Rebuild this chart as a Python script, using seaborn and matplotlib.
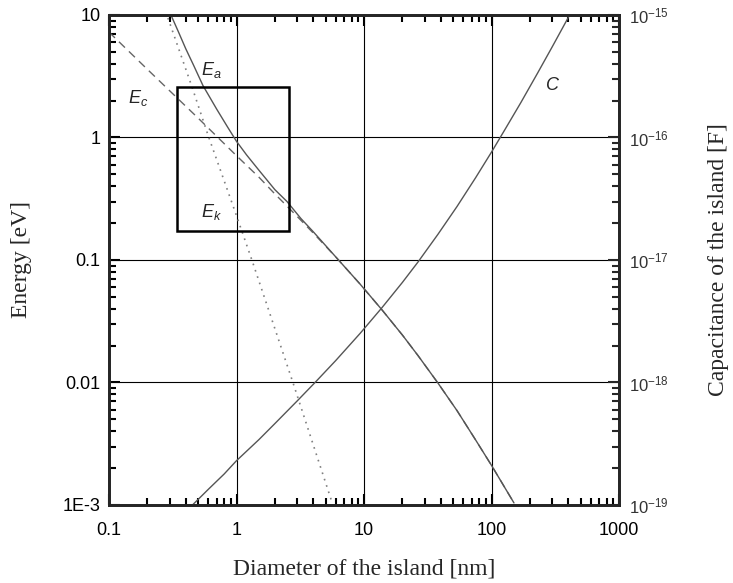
import numpy as np
import pandas as pd
import seaborn as sns
import matplotlib.pyplot as plt
from matplotlib.ticker import LogLocator, FixedLocator, FixedFormatter, NullFormatter
from matplotlib.patches import Rectangle

# values
ea_d = [0.306, 0.35, 0.4, 0.46, 0.546, 0.7, 0.85, 1.0, 1.2, 1.5, 2.0, 2.49, 3.2,
        4.0, 6.1, 9.3, 13.8, 20, 26.5, 38, 53.6, 75, 101, 128, 150]
ea_e = [10.0, 7.3, 5.3, 3.9, 2.65, 1.7, 1.22, 0.93, 0.72, 0.54, 0.375, 0.30, 0.218,
        0.17, 0.104, 0.0637, 0.0393, 0.0244, 0.0166, 0.0099, 0.0059, 0.0034,
        0.00207, 0.00137, 0.00104]

ec_d = [0.1, 0.2, 0.341, 0.5, 1.0, 1.5, 2.0, 2.5, 3.0, 4.0, 6.1,
        9.3, 13.8, 20, 26.5, 38, 53.6, 75, 101, 128, 150]
ec_e = [7.25, 3.6, 2.11, 1.44, 0.71, 0.474, 0.346, 0.274, 0.226, 0.166, 0.104,
        0.0637, 0.0393, 0.0244, 0.0166, 0.0099, 0.0059, 0.0034, 0.00207, 0.00137, 0.00104]

ek_d = [0.29, 0.448, 0.597, 1.0, 1.32, 2.77, 5.7]
ek_e = [9.45, 2.58, 1.05, 0.23, 0.1, 0.01, 0.001]

c_d = [0.456, 0.6, 0.8, 1.0, 1.5, 2.0, 3.0, 4.13, 6.0, 9.3, 13.8, 20, 26.5,
       38, 53.6, 75, 101, 128, 170, 230, 300, 410]
c_f = [1.01e-19, 1.34e-19, 1.79e-19, 2.3e-19, 3.42e-19, 4.62e-19, 7.09e-19, 1e-18,
       1.51e-18, 2.51e-18, 4.07e-18, 6.56e-18, 9.62e-18, 1.62e-17, 2.73e-17, 4.69e-17,
       7.73e-17, 1.17e-16, 1.93e-16, 3.36e-16, 5.52e-16, 1e-15]

box_d = [0.341, 2.58]
box_e = [0.173, 2.58]

left_ticks = [1e-3, 1e-2, 1e-1, 1, 10]
left_labels = ["1E-3", "0.01", "0.1", "1", "10"]
x_ticks = [0.1, 1, 10, 100, 1000]
x_labels = ["0.1", "1", "10", "100", "1000"]
right_ticks = [1e-19, 1e-18, 1e-17, 1e-16, 1e-15]
right_labels = ["$10^{-19}$", "$10^{-18}$", "$10^{-17}$", "$10^{-16}$", "$10^{-15}$"]

sns.set_style("ticks")
plt.rcParams['font.family'] = ['Liberation Sans', 'DejaVu Sans']
plt.rcParams['mathtext.fontset'] = 'custom'
plt.rcParams['mathtext.rm'] = 'Liberation Sans'
plt.rcParams['mathtext.it'] = 'Liberation Sans:italic'

fig = plt.figure(figsize=(7.33, 5.83), dpi=100)
ax = fig.add_axes([0.1487, 0.1338, 0.6958, 0.8405])
ax.set_xscale('log')
ax.set_yscale('log')
ax.set_xlim(0.1, 1000)
ax.set_ylim(1e-3, 10)

line_col = '#555555'
sns.lineplot(x=ec_d, y=ec_e, ax=ax, color='#666666', lw=1.0, sort=False,
             linestyle=(0, (6, 4)))
sns.lineplot(x=ea_d, y=ea_e, ax=ax, color=line_col, lw=1.0, sort=False)
sns.lineplot(x=ek_d, y=ek_e, ax=ax, color='#808080', lw=1.2, sort=False,
             linestyle=(0, (1, 3)))

ax.add_patch(Rectangle((box_d[0], box_e[0]), box_d[1] - box_d[0], box_e[1] - box_e[0],
                       fill=False, ec='black', lw=1.8, zorder=5))

ax.grid(True, which='major', color='black', lw=0.8)
ax.xaxis.set_major_locator(FixedLocator(x_ticks))
ax.xaxis.set_major_formatter(FixedFormatter(x_labels))
ax.xaxis.set_minor_locator(LogLocator(base=10, subs=np.arange(2, 10)))
ax.xaxis.set_minor_formatter(NullFormatter())
ax.yaxis.set_major_locator(FixedLocator(left_ticks))
ax.yaxis.set_major_formatter(FixedFormatter(left_labels))
ax.yaxis.set_minor_locator(LogLocator(base=10, subs=np.arange(2, 10)))
ax.yaxis.set_minor_formatter(NullFormatter())
ax.tick_params(which='both', direction='in', top=True, right=False, width=1.5,
               labelsize=13, colors='black')
ax.tick_params(which='major', length=8)
ax.tick_params(which='minor', length=5)
ax.tick_params(axis='x', which='major', pad=12)
ax.tick_params(axis='y', which='major', pad=6)
for s in ax.spines.values():
    s.set_linewidth(2)

ax2 = ax.twinx()
ax2.set_yscale('log')
ax2.set_ylim(1e-19, 1e-15)
sns.lineplot(x=c_d, y=c_f, ax=ax2, color=line_col, lw=1.0, sort=False)
ax2.yaxis.set_major_locator(FixedLocator(right_ticks))
ax2.yaxis.set_major_formatter(FixedFormatter(right_labels))
ax2.yaxis.set_minor_locator(LogLocator(base=10, subs=np.arange(2, 10)))
ax2.yaxis.set_minor_formatter(NullFormatter())
ax2.tick_params(which='both', direction='in', width=1.5, labelsize=12,
                labelcolor='#333333')
ax2.tick_params(which='major', length=8, pad=7)
ax2.tick_params(which='minor', length=5)
for s in ax2.spines.values():
    s.set_linewidth(2)

ax.text(0.64, 3.56, "$E_a$", fontsize=13, ha='center', va='center')
ax.text(0.169, 2.1, "$E_c$", fontsize=13, ha='center', va='center')
ax.text(0.64, 0.245, "$E_k$", fontsize=13, ha='center', va='center')
ax2.text(299, 2.68e-16, "$C$", fontsize=13, ha='center', va='center')

serif = ['Liberation Serif', 'DejaVu Serif']
ax.set_xlabel("Diameter of the island [nm]", fontsize=17, family=serif, labelpad=14)
ax.set_ylabel("Energy [eV]", fontsize=17, family=serif, labelpad=22)
ax2.set_ylabel("Capacitance of the island [F]", fontsize=17, family=serif, labelpad=28)

fig.savefig("out.png", dpi=100)
